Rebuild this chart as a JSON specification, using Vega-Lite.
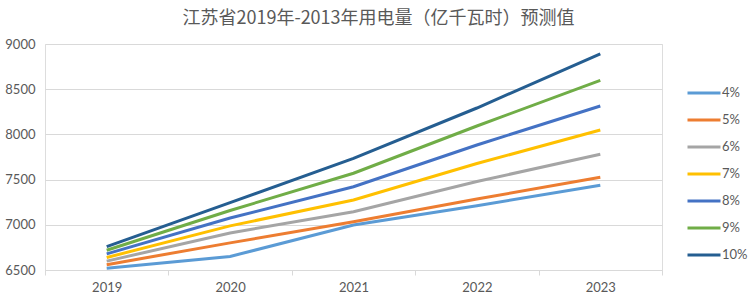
{
  "$schema": "https://vega.github.io/schema/vega-lite/v6.json",
  "width": 617,
  "height": 226,
  "autosize": {"type": "none"},
  "padding": {"left": 45, "top": 44, "right": 86, "bottom": 24},
  "background": "white",
  "title": {
    "text": "江苏省2019年-2013年用电量（亿千瓦时）预测值",
    "font": "Noto Sans CJK SC",
    "fontSize": 18,
    "fontWeight": "normal",
    "color": "#595959",
    "anchor": "middle",
    "frame": "group",
    "dx": 25,
    "offset": 10
  },
  "data": {
    "values": [
      {"year": "2019", "rate": "4%", "value": 6519},
      {"year": "2020", "rate": "4%", "value": 6650},
      {"year": "2021", "rate": "4%", "value": 6998},
      {"year": "2022", "rate": "4%", "value": 7211},
      {"year": "2023", "rate": "4%", "value": 7437},
      {"year": "2019", "rate": "5%", "value": 6559},
      {"year": "2020", "rate": "5%", "value": 6800},
      {"year": "2021", "rate": "5%", "value": 7034},
      {"year": "2022", "rate": "5%", "value": 7285},
      {"year": "2023", "rate": "5%", "value": 7525},
      {"year": "2019", "rate": "6%", "value": 6598},
      {"year": "2020", "rate": "6%", "value": 6910},
      {"year": "2021", "rate": "6%", "value": 7145},
      {"year": "2022", "rate": "6%", "value": 7479},
      {"year": "2023", "rate": "6%", "value": 7780},
      {"year": "2019", "rate": "7%", "value": 6638},
      {"year": "2020", "rate": "7%", "value": 6988},
      {"year": "2021", "rate": "7%", "value": 7274},
      {"year": "2022", "rate": "7%", "value": 7678},
      {"year": "2023", "rate": "7%", "value": 8048},
      {"year": "2019", "rate": "8%", "value": 6678},
      {"year": "2020", "rate": "8%", "value": 7075},
      {"year": "2021", "rate": "8%", "value": 7421},
      {"year": "2022", "rate": "8%", "value": 7883},
      {"year": "2023", "rate": "8%", "value": 8314},
      {"year": "2019", "rate": "9%", "value": 6718},
      {"year": "2020", "rate": "9%", "value": 7158},
      {"year": "2021", "rate": "9%", "value": 7570},
      {"year": "2022", "rate": "9%", "value": 8093},
      {"year": "2023", "rate": "9%", "value": 8598},
      {"year": "2019", "rate": "10%", "value": 6758},
      {"year": "2020", "rate": "10%", "value": 7245},
      {"year": "2021", "rate": "10%", "value": 7735},
      {"year": "2022", "rate": "10%", "value": 8292},
      {"year": "2023", "rate": "10%", "value": 8892}
    ]
  },
  "mark": {"type": "line", "strokeWidth": 3, "interpolate": "linear"},
  "encoding": {
    "x": {
      "field": "year",
      "type": "ordinal",
      "scale": {"type": "band", "paddingInner": 0, "paddingOuter": 0},
      "axis": {
        "title": null,
        "labelAngle": 0,
        "labelFont": "Lato",
        "labelFontSize": 13,
        "labelColor": "#595959",
        "labelPadding": 6,
        "domainColor": "#d9d9d9",
        "tickColor": "#d9d9d9",
        "tickSize": 5,
        "tickBand": "extent",
        "grid": false
      }
    },
    "y": {
      "field": "value",
      "type": "quantitative",
      "scale": {"domain": [6500, 9000], "nice": false, "zero": false},
      "axis": {
        "title": null,
        "values": [6500, 7000, 7500, 8000, 8500, 9000],
        "format": "d",
        "labelFont": "Lato",
        "labelFontSize": 13,
        "labelColor": "#595959",
        "labelPadding": 10,
        "domain": false,
        "ticks": false,
        "gridColor": "#d9d9d9",
        "gridWidth": 1
      }
    },
    "color": {
      "field": "rate",
      "type": "nominal",
      "scale": {
        "domain": ["4%", "5%", "6%", "7%", "8%", "9%", "10%"],
        "range": ["#5B9BD5", "#ED7D31", "#A5A5A5", "#FFC000", "#4472C4", "#70AD47", "#255E91"]
      },
      "legend": {
        "title": null,
        "orient": "none",
        "legendX": 641,
        "legendY": 31,
        "symbolType": "M-1,0H1",
        "symbolSize": 1089,
        "symbolStrokeWidth": 3,
        "labelFont": "Lato",
        "labelFontSize": 13,
        "labelColor": "#595959",
        "labelOffset": 0,
        "rowPadding": 2,
        "padding": 0
      }
    }
  }
}
